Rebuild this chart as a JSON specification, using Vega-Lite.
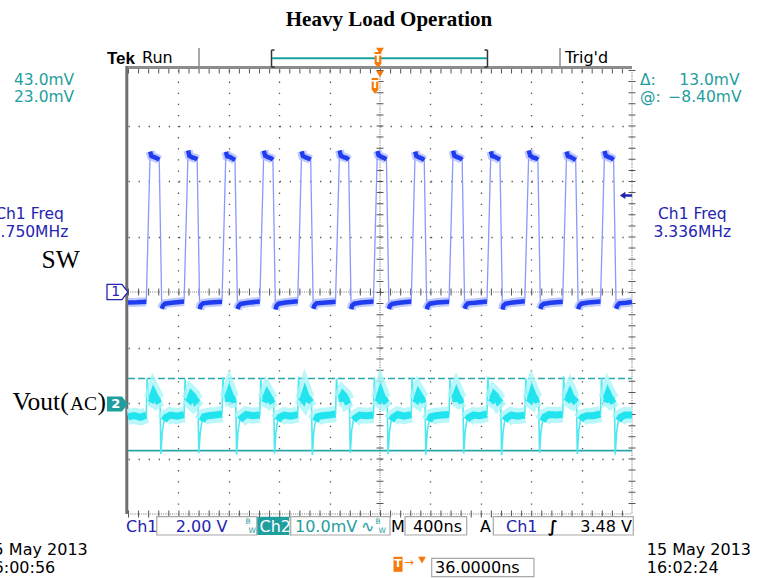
{
  "$schema": "https://vega.github.io/schema/vega-lite/v6.json",
  "width": 504,
  "height": 444,
  "autosize": {"type": "none"},
  "padding": {"left": 128, "top": 70, "right": 137, "bottom": 64},
  "background": "#ffffff",
  "config": {
    "view": {"stroke": null},
    "axis": {"domain": false, "ticks": false, "labels": false, "title": null, "grid": false}
  },
  "resolve": {"scale": {"y": "independent"}},
  "layer": [
    {
      "encoding": {
        "x": {"field": "t", "type": "quantitative", "scale": {"domain": [-2000, 2000], "nice": false, "zero": false},
              "axis": {"values": [-1600, -1200, -800, -400, 400, 800, 1200, 1600], "grid": true, "gridDash": [1.3, 9.8], "gridColor": "#555555", "gridWidth": 1.3}},
        "y": {"field": "v", "type": "quantitative", "scale": {"domain": [-8, 8], "nice": false, "zero": false},
              "axis": {"values": [-6, -4, -2, 2, 4, 6], "grid": true, "gridDash": [1.3, 8.78], "gridColor": "#555555", "gridWidth": 1.3}}
      },
      "layer": [
        {"data": {"values": [
            {"t": 0, "t2": 0, "v": 8, "v2": -8},
            {"t": 2000, "t2": 2000, "v": 8, "v2": -8},
            {"t": -2000, "t2": 2000, "v": 0, "v2": 0},
            {"t": -2000, "t2": 2000, "v": -8, "v2": -8}]},
         "mark": {"type": "rule", "color": "#7a7a7a", "strokeWidth": 1.1, "strokeDash": [1, 1.2]},
         "encoding": {"x2": {"field": "t2"}, "y2": {"field": "v2"}}},
        {"data": {"values": [
            {"t": 0, "t2": 0, "v": 8, "v2": -8},
            {"t": 2000, "t2": 2000, "v": 8, "v2": -8}]},
         "mark": {"type": "rule", "color": "#555555", "strokeWidth": 7, "strokeDash": [1, 10.1]},
         "encoding": {"x2": {"field": "t2"}, "y2": {"field": "v2"}}},
        {"data": {"values": [
            {"t": -2000, "t2": 2000, "v": 0, "v2": 0},
            {"t": -2000, "t2": 2000, "v": -8, "v2": -8},
            {"t": -2000, "t2": 2000, "v": 8, "v2": 8}]},
         "mark": {"type": "rule", "color": "#555555", "strokeWidth": 7, "strokeDash": [1, 9.08]},
         "encoding": {"x2": {"field": "t2"}, "y2": {"field": "v2"}}},
        {"data": {"values": [{"t": -2016, "t2": 2000, "v": 8.09, "v2": 8.09}]},
         "mark": {"type": "rule", "color": "#8c8c8c", "strokeWidth": 3},
         "encoding": {"x2": {"field": "t2"}, "y2": {"field": "v2"}}},
        {"data": {"values": [{"t": -2009.5, "t2": -2009.5, "v": 8.14, "v2": -8}]},
         "mark": {"type": "rule", "color": "#707070", "strokeWidth": 3},
         "encoding": {"x2": {"field": "t2"}, "y2": {"field": "v2"}}},
        {"data": {"values": [
            {"t": -1436.5, "t2": -1436.5, "v": 8.79, "v2": 8.108},
            {"t": 1428.6, "t2": 1428.6, "v": 8.79, "v2": 8.108}]},
         "mark": {"type": "rule", "color": "#8c8c8c", "strokeWidth": 1.5},
         "encoding": {"x2": {"field": "t2"}, "y2": {"field": "v2"}}},
        {"data": {"values": [
            {"t": -861, "t2": -861, "v": 8.72, "v2": 8.108},
            {"t": 853, "t2": 853, "v": 8.72, "v2": 8.108},
            {"t": -861, "t2": -837, "v": 8.72, "v2": 8.72},
            {"t": -861, "t2": -837, "v": 8.108, "v2": 8.108},
            {"t": 829, "t2": 853, "v": 8.72, "v2": 8.72},
            {"t": 829, "t2": 853, "v": 8.108, "v2": 8.108}]},
         "mark": {"type": "rule", "color": "#333333", "strokeWidth": 1.5},
         "encoding": {"x2": {"field": "t2"}, "y2": {"field": "v2"}}},
        {"data": {"values": [{"t": -858, "t2": 850, "v": 8.422, "v2": 8.422}]},
         "mark": {"type": "rule", "color": "#1aa0a0", "strokeWidth": 2},
         "encoding": {"x2": {"field": "t2"}, "y2": {"field": "v2"}}},
        {
          "data": {"name": "sw", "values": [
            {"t":-2000,"v":-0.38,"s":"l_"},{"t":-1930,"v":-0.37,"s":"l_"},{"t":-1855,"v":-0.35,"s":"l_"},
            {"t":-1824,"v":5.06,"s":"h0"},{"t":-1814,"v":4.9,"s":"h0"},{"t":-1792,"v":4.86,"s":"h0"},{"t":-1767,"v":4.81,"s":"h0"},{"t":-1752,"v":4.76,"s":"h0"},
            {"t":-1732,"v":-0.6,"s":"l0"},{"t":-1724,"v":-0.5,"s":"l0"},{"t":-1707,"v":-0.42,"s":"l0"},{"t":-1652,"v":-0.39,"s":"l0"},{"t":-1555,"v":-0.34,"s":"l0"},
            {"t":-1523,"v":5.1,"s":"h1"},{"t":-1513,"v":4.91,"s":"h1"},{"t":-1491,"v":4.85,"s":"h1"},{"t":-1466,"v":4.82,"s":"h1"},{"t":-1451,"v":4.77,"s":"h1"},
            {"t":-1431,"v":-0.62,"s":"l1"},{"t":-1423,"v":-0.49,"s":"l1"},{"t":-1406,"v":-0.41,"s":"l1"},{"t":-1351,"v":-0.38,"s":"l1"},{"t":-1254,"v":-0.35,"s":"l1"},
            {"t":-1223,"v":5.05,"s":"h2"},{"t":-1213,"v":4.89,"s":"h2"},{"t":-1191,"v":4.87,"s":"h2"},{"t":-1166,"v":4.8,"s":"h2"},{"t":-1151,"v":4.75,"s":"h2"},
            {"t":-1131,"v":-0.61,"s":"l2"},{"t":-1123,"v":-0.51,"s":"l2"},{"t":-1106,"v":-0.43,"s":"l2"},{"t":-1051,"v":-0.39,"s":"l2"},{"t":-954,"v":-0.34,"s":"l2"},
            {"t":-922,"v":5.09,"s":"h3"},{"t":-912,"v":4.92,"s":"h3"},{"t":-890,"v":4.86,"s":"h3"},{"t":-865,"v":4.82,"s":"h3"},{"t":-850,"v":4.76,"s":"h3"},
            {"t":-830,"v":-0.63,"s":"l3"},{"t":-822,"v":-0.5,"s":"l3"},{"t":-805,"v":-0.42,"s":"l3"},{"t":-750,"v":-0.38,"s":"l3"},{"t":-653,"v":-0.33,"s":"l3"},
            {"t":-622,"v":5.07,"s":"h4"},{"t":-612,"v":4.9,"s":"h4"},{"t":-590,"v":4.85,"s":"h4"},{"t":-565,"v":4.81,"s":"h4"},{"t":-550,"v":4.77,"s":"h4"},
            {"t":-530,"v":-0.6,"s":"l4"},{"t":-522,"v":-0.5,"s":"l4"},{"t":-505,"v":-0.41,"s":"l4"},{"t":-450,"v":-0.39,"s":"l4"},{"t":-353,"v":-0.35,"s":"l4"},
            {"t":-321,"v":5.1,"s":"h5"},{"t":-311,"v":4.91,"s":"h5"},{"t":-289,"v":4.86,"s":"h5"},{"t":-264,"v":4.83,"s":"h5"},{"t":-249,"v":4.76,"s":"h5"},
            {"t":-229,"v":-0.62,"s":"l5"},{"t":-221,"v":-0.49,"s":"l5"},{"t":-204,"v":-0.42,"s":"l5"},{"t":-149,"v":-0.38,"s":"l5"},{"t":-52,"v":-0.34,"s":"l5"},
            {"t":-21,"v":5.08,"s":"h6"},{"t":-11,"v":4.93,"s":"h6"},{"t":11,"v":4.87,"s":"h6"},{"t":36,"v":4.82,"s":"h6"},{"t":51,"v":4.78,"s":"h6"},
            {"t":71,"v":-0.61,"s":"l6"},{"t":79,"v":-0.5,"s":"l6"},{"t":96,"v":-0.43,"s":"l6"},{"t":151,"v":-0.39,"s":"l6"},{"t":248,"v":-0.34,"s":"l6"},
            {"t":279,"v":5.06,"s":"h7"},{"t":289,"v":4.9,"s":"h7"},{"t":311,"v":4.85,"s":"h7"},{"t":336,"v":4.8,"s":"h7"},{"t":351,"v":4.75,"s":"h7"},
            {"t":371,"v":-0.62,"s":"l7"},{"t":379,"v":-0.51,"s":"l7"},{"t":396,"v":-0.42,"s":"l7"},{"t":451,"v":-0.38,"s":"l7"},{"t":548,"v":-0.35,"s":"l7"},
            {"t":580,"v":5.09,"s":"h8"},{"t":590,"v":4.91,"s":"h8"},{"t":612,"v":4.86,"s":"h8"},{"t":637,"v":4.82,"s":"h8"},{"t":652,"v":4.76,"s":"h8"},
            {"t":672,"v":-0.6,"s":"l8"},{"t":680,"v":-0.5,"s":"l8"},{"t":697,"v":-0.41,"s":"l8"},{"t":752,"v":-0.39,"s":"l8"},{"t":849,"v":-0.34,"s":"l8"},
            {"t":880,"v":5.07,"s":"h9"},{"t":890,"v":4.9,"s":"h9"},{"t":912,"v":4.87,"s":"h9"},{"t":937,"v":4.81,"s":"h9"},{"t":952,"v":4.77,"s":"h9"},
            {"t":972,"v":-0.63,"s":"l9"},{"t":980,"v":-0.49,"s":"l9"},{"t":997,"v":-0.42,"s":"l9"},{"t":1052,"v":-0.38,"s":"l9"},{"t":1149,"v":-0.33,"s":"l9"},
            {"t":1181,"v":5.1,"s":"h10"},{"t":1191,"v":4.92,"s":"h10"},{"t":1213,"v":4.85,"s":"h10"},{"t":1238,"v":4.82,"s":"h10"},{"t":1253,"v":4.76,"s":"h10"},
            {"t":1273,"v":-0.61,"s":"l10"},{"t":1281,"v":-0.5,"s":"l10"},{"t":1298,"v":-0.43,"s":"l10"},{"t":1353,"v":-0.39,"s":"l10"},{"t":1450,"v":-0.35,"s":"l10"},
            {"t":1481,"v":5.06,"s":"h11"},{"t":1491,"v":4.9,"s":"h11"},{"t":1513,"v":4.86,"s":"h11"},{"t":1538,"v":4.8,"s":"h11"},{"t":1553,"v":4.75,"s":"h11"},
            {"t":1573,"v":-0.62,"s":"l11"},{"t":1581,"v":-0.5,"s":"l11"},{"t":1598,"v":-0.42,"s":"l11"},{"t":1653,"v":-0.38,"s":"l11"},{"t":1750,"v":-0.34,"s":"l11"},
            {"t":1782,"v":5.08,"s":"h12"},{"t":1792,"v":4.91,"s":"h12"},{"t":1814,"v":4.86,"s":"h12"},{"t":1839,"v":4.82,"s":"h12"},{"t":1854,"v":4.76,"s":"h12"},
            {"t":1874,"v":-0.6,"s":"l12"},{"t":1882,"v":-0.5,"s":"l12"},{"t":1899,"v":-0.41,"s":"l12"},{"t":1954,"v":-0.39,"s":"l12"},{"t":2000,"v":-0.36,"s":"l12"}
          ]},
          "layer": [
            {"mark": {"type": "line", "color": "#8a98ff", "strokeWidth": 1.3}},
            {"mark": {"type": "line", "color": "#aab6ff", "strokeWidth": 9, "opacity": 0.75}, "encoding": {"detail": {"field": "s"}}},
            {"mark": {"type": "line", "color": "#1f3cf0", "strokeWidth": 4.5}, "encoding": {"detail": {"field": "s"}}}
          ]
        },
        {"data": {"values": [{"t": 1952.4, "v": 3.48}]},
         "mark": {"type": "point", "shape": "M-1,0 L-0.1,-0.6 L-0.1,-0.2 L1,-0.2 L1,0.2 L-0.1,0.2 L-0.1,0.6 Z", "size": 150, "filled": true, "color": "#2424b0", "opacity": 1}},
        {"data": {"values": [{"t": -2083.3, "v": 0}]},
         "mark": {"type": "point", "shape": "M-1,-0.72 L0.42,-0.72 L1,0 L0.42,0.72 L-1,0.72 Z", "size": 441, "filled": true, "fill": "#ffffff", "stroke": "#2424b0", "strokeWidth": 1.3, "opacity": 1}},
        {"data": {"values": [{"label": "1", "t": -2097, "v": 0}]},
         "mark": {"type": "text", "align": "center", "baseline": "middle", "font": "DejaVu Sans", "fontSize": 14, "color": "#2424b0"},
         "encoding": {"text": {"field": "label"}}},
        {"data": {"values": [{"t": -15.9, "v": 8.36}, {"t": -39.7, "v": 7.423}]},
         "mark": {"type": "point", "shape": "M-0.42,-1 L0.42,-1 L0.42,0.45 L0,1 L-0.42,0.45 Z", "size": 256, "filled": true, "color": "#f57a0a", "opacity": 1}},
        {"data": {"values": [{"label": "T", "t": -15.9, "v": 8.4}, {"label": "T", "t": -39.7, "v": 7.46}]},
         "mark": {"type": "text", "align": "center", "baseline": "middle", "font": "DejaVu Sans", "fontWeight": "bold", "fontSize": 11, "color": "#ffffff"},
         "encoding": {"text": {"field": "label"}}},
        {"data": {"values": [{"t": 0, "v": 8.685}, {"t": 0, "v": 7.856}]},
         "mark": {"type": "point", "shape": "triangle-down", "size": 60, "filled": true, "color": "#f57a0a", "opacity": 1}},
        {"data": {"values": [{"t": 142.9, "v": -9.813}]},
         "mark": {"type": "point", "shape": "M-0.6,-1 L0.6,-1 L0.6,1 L-0.6,1 Z", "size": 225, "filled": true, "color": "#f57a0a", "opacity": 1}},
        {"data": {"values": [{"label": "T", "t": 142.9, "v": -9.813}]},
         "mark": {"type": "text", "align": "center", "baseline": "middle", "font": "DejaVu Sans", "fontWeight": "bold", "fontSize": 11, "color": "#ffffff"},
         "encoding": {"text": {"field": "label"}}},
        {"data": {"values": [{"label": "→", "t": 230.2, "v": -9.766}]},
         "mark": {"type": "text", "align": "center", "baseline": "middle", "font": "DejaVu Sans", "fontSize": 11, "color": "#f57a0a"},
         "encoding": {"text": {"field": "label"}}},
        {"data": {"values": [{"t": 333.3, "v": -9.66}]},
         "mark": {"type": "point", "shape": "triangle-down", "size": 60, "filled": true, "color": "#f57a0a", "opacity": 1}},
        {"data": {"values": [
            {"t": -1771.4, "t2": -977.8, "v": -8.097, "v2": -8.757},
            {"t": -708.7, "t2": 79.4, "v": -8.097, "v2": -8.757},
            {"t": 198.4, "t2": 688.1, "v": -8.097, "v2": -8.757},
            {"t": 899.2, "t2": 2010.3, "v": -8.097, "v2": -8.757},
            {"t": 410.3, "t2": 1222.2, "v": -9.597, "v2": -10.26}]},
         "mark": {"type": "rect", "fill": "#ffffff", "stroke": "#a8a8a8", "strokeWidth": 1.2},
         "encoding": {"x2": {"field": "t2"}, "y2": {"field": "v2"}}},
        {"data": {"values": [{"t": -973.8, "t2": -720.2, "v": -8.097, "v2": -8.757}]},
         "mark": {"type": "rect", "fill": "#1f9e9e"},
         "encoding": {"x2": {"field": "t2"}, "y2": {"field": "v2"}}},
        {"data": {"values": [{"label": "Heavy Load Operation", "t": 71.4, "v": 9.586}]},
         "mark": {"type": "text", "align": "center", "baseline": "alphabetic", "font": "Liberation Serif", "fontWeight": "bold", "fontSize": 21, "color": "#000000"},
         "encoding": {"text": {"field": "label"}}},
        {"data": {"values": [{"label": "Tek", "t": -2166.7, "v": 8.216}]},
         "mark": {"type": "text", "align": "left", "baseline": "alphabetic", "font": "Liberation Sans", "fontWeight": "bold", "fontSize": 17, "color": "#000000"},
         "encoding": {"text": {"field": "label"}}},
        {"data": {"values": [
            {"label": "Run", "t": -1888.9, "v": 8.252},
            {"label": "Trig'd", "t": 1468.3, "v": 8.252},
            {"label": "M", "t": 87.3, "v": -8.649},
            {"label": "400ns", "t": 261.9, "v": -8.649},
            {"label": "A", "t": 793.7, "v": -8.649},
            {"label": "15 May 2013", "t": -3147.5, "v": -9.477},
            {"label": "16:00:56", "t": -3147.5, "v": -10.126},
            {"label": "15 May 2013", "t": 2116.7, "v": -9.477},
            {"label": "16:02:24", "t": 2116.7, "v": -10.126},
            {"label": "36.0000ns", "t": 436.5, "v": -10.126}]},
         "mark": {"type": "text", "align": "left", "baseline": "alphabetic", "font": "DejaVu Sans", "fontSize": 16, "color": "#000000"},
         "encoding": {"text": {"field": "label"}}},
        {"data": {"values": [{"label": "3.48 V", "t": 2000, "v": -8.649}]},
         "mark": {"type": "text", "align": "right", "baseline": "alphabetic", "font": "DejaVu Sans", "fontSize": 16, "color": "#000000"},
         "encoding": {"text": {"field": "label"}}},
        {"data": {"values": [{"label": "∫", "t": 1333.3, "v": -8.649}]},
         "mark": {"type": "text", "align": "left", "baseline": "alphabetic", "font": "DejaVu Sans", "fontWeight": "bold", "fontSize": 16, "color": "#000000"},
         "encoding": {"text": {"field": "label"}}},
        {"data": {"values": [
            {"label": "43.0mV", "t": -2904.8, "v": 7.459},
            {"label": "23.0mV", "t": -2904.8, "v": 6.847},
            {"label": "Δ:", "t": 2063.5, "v": 7.459},
            {"label": "@:", "t": 2063.5, "v": 6.847}]},
         "mark": {"type": "text", "align": "left", "baseline": "alphabetic", "font": "DejaVu Sans", "fontSize": 15.5, "color": "#1f9e9e"},
         "encoding": {"text": {"field": "label"}}},
        {"data": {"values": [
            {"label": "10.0mV", "t": -674.6, "v": -8.649},
            {"label": "∿", "t": -150.8, "v": -8.649}]},
         "mark": {"type": "text", "align": "left", "baseline": "alphabetic", "font": "DejaVu Sans", "fontSize": 16, "color": "#1f9e9e"},
         "encoding": {"text": {"field": "label"}}},
        {"data": {"values": [
            {"label": "13.0mV", "t": 2853.2, "v": 7.459},
            {"label": "−8.40mV", "t": 2869, "v": 6.847}]},
         "mark": {"type": "text", "align": "right", "baseline": "alphabetic", "font": "DejaVu Sans", "fontSize": 15.5, "color": "#1f9e9e"},
         "encoding": {"text": {"field": "label"}}},
        {"data": {"values": [
            {"label": "Ch1 Freq", "t": -2781.7, "v": 2.631},
            {"label": "1.750MHz", "t": -2781.7, "v": 2.0},
            {"label": "Ch1 Freq", "t": 2478.6, "v": 2.631},
            {"label": "3.336MHz", "t": 2478.6, "v": 2.0}]},
         "mark": {"type": "text", "align": "center", "baseline": "alphabetic", "font": "DejaVu Sans", "fontSize": 15.5, "color": "#2424b0"},
         "encoding": {"text": {"field": "label"}}},
        {"data": {"values": [
            {"label": "Ch1", "t": -2015.9, "v": -8.649},
            {"label": "2.00 V", "t": -1621.4, "v": -8.649},
            {"label": "Ch1", "t": 1000, "v": -8.649}]},
         "mark": {"type": "text", "align": "left", "baseline": "alphabetic", "font": "DejaVu Sans", "fontSize": 16, "color": "#2424b0"},
         "encoding": {"text": {"field": "label"}}},
        {"data": {"values": [{"label": "Ch2", "t": -956.3, "v": -8.649}]},
         "mark": {"type": "text", "align": "left", "baseline": "alphabetic", "font": "DejaVu Sans", "fontSize": 16, "color": "#ffffff"},
         "encoding": {"text": {"field": "label"}}},
        {"data": {"values": [
            {"label": "B", "t": -1067.5, "v": -8.36},
            {"label": "W", "t": -1043.7, "v": -8.685},
            {"label": "B", "t": -35.7, "v": -8.36},
            {"label": "W", "t": -11.9, "v": -8.685}]},
         "mark": {"type": "text", "align": "left", "baseline": "alphabetic", "font": "DejaVu Sans", "fontSize": 7.5, "color": "#1f9e9e"},
         "encoding": {"text": {"field": "label"}}},
        {"data": {"values": [
            {"label": "SW", "t": -2686.5, "v": 0.865},
            {"label": "Vout(", "t": -2916.7, "v": -4.27},
            {"label": ")", "t": -2242, "v": -4.27}]},
         "mark": {"type": "text", "align": "left", "baseline": "alphabetic", "font": "Liberation Serif", "fontSize": 25.5, "color": "#000000"},
         "encoding": {"text": {"field": "label"}}},
        {"data": {"values": [{"label": "AC", "t": -2460, "v": -4.27}]},
         "mark": {"type": "text", "align": "left", "baseline": "alphabetic", "font": "Liberation Serif", "fontSize": 19.5, "color": "#000000"},
         "encoding": {"text": {"field": "label"}}}
      ]
    },
    {
      "encoding": {
        "x": {"field": "t", "type": "quantitative", "scale": {"domain": [-2000, 2000], "nice": false, "zero": false},
              "axis": {"values": [-1600, -1200, -800, -400, 400, 800, 1200, 1600], "grid": true, "gridDash": [1.3, 9.8], "gridColor": "#555555", "gridWidth": 1.3}},
        "y": {"field": "v", "type": "quantitative", "scale": {"domain": [-19.82, 60.18], "nice": false, "zero": false}, "axis": null}
      },
      "layer": [
        {"data": {"values": [{"t": -2000, "t2": 2000, "v": 4.6, "v2": 4.6}]},
         "mark": {"type": "rule", "color": "#2aa8a8", "strokeWidth": 1.6, "strokeDash": [7, 3]},
         "encoding": {"x2": {"field": "t2"}, "y2": {"field": "v2"}}},
        {"data": {"values": [{"t": -2000, "t2": 2000, "v": -8.4, "v2": -8.4}]},
         "mark": {"type": "rule", "color": "#2aa8a8", "strokeWidth": 1.8},
         "encoding": {"x2": {"field": "t2"}, "y2": {"field": "v2"}}},
        {
          "data": {"name": "vout", "values": [
            {"t":-2000,"v":-2.3,"s":"l_"},{"t":-1950,"v":-2.1,"s":"l_"},{"t":-1900,"v":-2.4,"s":"l_"},{"t":-1855,"v":-2.0,"s":"l_"},
            {"t":-1848,"v":4.7,"s":"e"},{"t":-1840,"v":2.2,"s":"e"},{"t":-1830,"v":1.1,"s":"h0"},{"t":-1812,"v":0.9,"s":"h0"},{"t":-1797,"v":1.9,"s":"h0"},{"t":-1784,"v":1.3,"s":"h0"},{"t":-1767,"v":0.7,"s":"h0"},{"t":-1746,"v":1.0,"s":"h0"},
            {"t":-1739,"v":-9.0,"s":"e"},{"t":-1728,"v":-5.0,"s":"e"},{"t":-1714,"v":-3.0,"s":"l0"},{"t":-1697,"v":-2.4,"s":"l0"},{"t":-1662,"v":-2.0,"s":"l0"},{"t":-1612,"v":-2.2,"s":"l0"},{"t":-1555,"v":-1.9,"s":"l0"},
            {"t":-1547,"v":4.5,"s":"e"},{"t":-1539,"v":2.0,"s":"e"},{"t":-1529,"v":1.2,"s":"h1"},{"t":-1511,"v":0.8,"s":"h1"},{"t":-1496,"v":1.7,"s":"h1"},{"t":-1483,"v":1.4,"s":"h1"},{"t":-1466,"v":0.6,"s":"h1"},{"t":-1445,"v":1.1,"s":"h1"},
            {"t":-1438,"v":-8.8,"s":"e"},{"t":-1427,"v":-5.2,"s":"e"},{"t":-1413,"v":-3.1,"s":"l1"},{"t":-1396,"v":-2.3,"s":"l1"},{"t":-1361,"v":-2.1,"s":"l1"},{"t":-1311,"v":-2.0,"s":"l1"},{"t":-1254,"v":-1.8,"s":"l1"},
            {"t":-1247,"v":4.8,"s":"e"},{"t":-1239,"v":2.3,"s":"e"},{"t":-1229,"v":1.0,"s":"h2"},{"t":-1211,"v":1.0,"s":"h2"},{"t":-1196,"v":2.0,"s":"h2"},{"t":-1183,"v":1.2,"s":"h2"},{"t":-1166,"v":0.8,"s":"h2"},{"t":-1145,"v":0.9,"s":"h2"},
            {"t":-1138,"v":-9.1,"s":"e"},{"t":-1127,"v":-4.9,"s":"e"},{"t":-1113,"v":-2.9,"s":"l2"},{"t":-1096,"v":-2.5,"s":"l2"},{"t":-1061,"v":-1.9,"s":"l2"},{"t":-1011,"v":-2.1,"s":"l2"},{"t":-954,"v":-2.0,"s":"l2"},
            {"t":-946,"v":4.6,"s":"e"},{"t":-938,"v":2.1,"s":"e"},{"t":-928,"v":1.1,"s":"h3"},{"t":-910,"v":0.9,"s":"h3"},{"t":-895,"v":1.8,"s":"h3"},{"t":-882,"v":1.3,"s":"h3"},{"t":-865,"v":0.7,"s":"h3"},{"t":-844,"v":1.0,"s":"h3"},
            {"t":-837,"v":-8.9,"s":"e"},{"t":-826,"v":-5.1,"s":"e"},{"t":-812,"v":-3.0,"s":"l3"},{"t":-795,"v":-2.4,"s":"l3"},{"t":-760,"v":-2.0,"s":"l3"},{"t":-710,"v":-2.2,"s":"l3"},{"t":-653,"v":-1.9,"s":"l3"},
            {"t":-646,"v":4.9,"s":"e"},{"t":-638,"v":2.2,"s":"e"},{"t":-628,"v":1.3,"s":"h4"},{"t":-610,"v":0.8,"s":"h4"},{"t":-595,"v":1.9,"s":"h4"},{"t":-582,"v":1.1,"s":"h4"},{"t":-565,"v":0.8,"s":"h4"},{"t":-544,"v":1.2,"s":"h4"},
            {"t":-537,"v":-9.2,"s":"e"},{"t":-526,"v":-5.0,"s":"e"},{"t":-512,"v":-3.1,"s":"l4"},{"t":-495,"v":-2.3,"s":"l4"},{"t":-460,"v":-2.1,"s":"l4"},{"t":-410,"v":-2.0,"s":"l4"},{"t":-353,"v":-1.8,"s":"l4"},
            {"t":-345,"v":4.6,"s":"e"},{"t":-337,"v":2.0,"s":"e"},{"t":-327,"v":1.0,"s":"h5"},{"t":-309,"v":1.0,"s":"h5"},{"t":-294,"v":1.7,"s":"h5"},{"t":-281,"v":1.4,"s":"h5"},{"t":-264,"v":0.6,"s":"h5"},{"t":-243,"v":0.9,"s":"h5"},
            {"t":-236,"v":-8.8,"s":"e"},{"t":-225,"v":-4.8,"s":"e"},{"t":-211,"v":-2.9,"s":"l5"},{"t":-194,"v":-2.5,"s":"l5"},{"t":-159,"v":-2.0,"s":"l5"},{"t":-109,"v":-2.1,"s":"l5"},{"t":-52,"v":-2.0,"s":"l5"},
            {"t":-45,"v":4.7,"s":"e"},{"t":-37,"v":2.3,"s":"e"},{"t":-27,"v":1.2,"s":"h6"},{"t":-9,"v":0.9,"s":"h6"},{"t":6,"v":2.0,"s":"h6"},{"t":19,"v":1.2,"s":"h6"},{"t":36,"v":0.7,"s":"h6"},{"t":57,"v":1.1,"s":"h6"},
            {"t":64,"v":-9.0,"s":"e"},{"t":75,"v":-5.1,"s":"e"},{"t":89,"v":-3.0,"s":"l6"},{"t":106,"v":-2.4,"s":"l6"},{"t":141,"v":-1.9,"s":"l6"},{"t":191,"v":-2.2,"s":"l6"},{"t":248,"v":-1.9,"s":"l6"},
            {"t":255,"v":4.8,"s":"e"},{"t":263,"v":2.1,"s":"e"},{"t":273,"v":1.1,"s":"h7"},{"t":291,"v":0.8,"s":"h7"},{"t":306,"v":1.8,"s":"h7"},{"t":319,"v":1.3,"s":"h7"},{"t":336,"v":0.8,"s":"h7"},{"t":357,"v":1.0,"s":"h7"},
            {"t":364,"v":-9.1,"s":"e"},{"t":375,"v":-5.0,"s":"e"},{"t":389,"v":-3.1,"s":"l7"},{"t":406,"v":-2.3,"s":"l7"},{"t":441,"v":-2.1,"s":"l7"},{"t":491,"v":-2.0,"s":"l7"},{"t":548,"v":-1.9,"s":"l7"},
            {"t":556,"v":4.5,"s":"e"},{"t":564,"v":2.2,"s":"e"},{"t":574,"v":1.0,"s":"h8"},{"t":592,"v":1.0,"s":"h8"},{"t":607,"v":1.9,"s":"h8"},{"t":620,"v":1.2,"s":"h8"},{"t":637,"v":0.7,"s":"h8"},{"t":658,"v":0.9,"s":"h8"},
            {"t":665,"v":-8.9,"s":"e"},{"t":676,"v":-4.9,"s":"e"},{"t":690,"v":-2.9,"s":"l8"},{"t":707,"v":-2.4,"s":"l8"},{"t":742,"v":-2.0,"s":"l8"},{"t":792,"v":-2.1,"s":"l8"},{"t":849,"v":-1.8,"s":"l8"},
            {"t":856,"v":4.9,"s":"e"},{"t":864,"v":2.0,"s":"e"},{"t":874,"v":1.2,"s":"h9"},{"t":892,"v":0.9,"s":"h9"},{"t":907,"v":1.7,"s":"h9"},{"t":920,"v":1.4,"s":"h9"},{"t":937,"v":0.6,"s":"h9"},{"t":958,"v":1.1,"s":"h9"},
            {"t":965,"v":-9.2,"s":"e"},{"t":976,"v":-5.2,"s":"e"},{"t":990,"v":-3.0,"s":"l9"},{"t":1007,"v":-2.5,"s":"l9"},{"t":1042,"v":-2.0,"s":"l9"},{"t":1092,"v":-2.2,"s":"l9"},{"t":1149,"v":-2.0,"s":"l9"},
            {"t":1157,"v":4.6,"s":"e"},{"t":1165,"v":2.3,"s":"e"},{"t":1175,"v":1.1,"s":"h10"},{"t":1193,"v":0.8,"s":"h10"},{"t":1208,"v":2.0,"s":"h10"},{"t":1221,"v":1.3,"s":"h10"},{"t":1238,"v":0.8,"s":"h10"},{"t":1259,"v":1.0,"s":"h10"},
            {"t":1266,"v":-8.8,"s":"e"},{"t":1277,"v":-5.0,"s":"e"},{"t":1291,"v":-3.1,"s":"l10"},{"t":1308,"v":-2.3,"s":"l10"},{"t":1343,"v":-1.9,"s":"l10"},{"t":1393,"v":-2.0,"s":"l10"},{"t":1450,"v":-1.9,"s":"l10"},
            {"t":1457,"v":5.0,"s":"e"},{"t":1465,"v":2.1,"s":"e"},{"t":1475,"v":1.3,"s":"h11"},{"t":1493,"v":1.0,"s":"h11"},{"t":1508,"v":1.8,"s":"h11"},{"t":1521,"v":1.1,"s":"h11"},{"t":1538,"v":0.7,"s":"h11"},{"t":1559,"v":1.2,"s":"h11"},
            {"t":1566,"v":-9.0,"s":"e"},{"t":1577,"v":-4.8,"s":"e"},{"t":1591,"v":-2.9,"s":"l11"},{"t":1608,"v":-2.4,"s":"l11"},{"t":1643,"v":-2.1,"s":"l11"},{"t":1693,"v":-2.1,"s":"l11"},{"t":1750,"v":-1.8,"s":"l11"},
            {"t":1758,"v":4.7,"s":"e"},{"t":1766,"v":2.2,"s":"e"},{"t":1776,"v":1.0,"s":"h12"},{"t":1794,"v":0.9,"s":"h12"},{"t":1809,"v":1.9,"s":"h12"},{"t":1822,"v":1.3,"s":"h12"},{"t":1839,"v":0.7,"s":"h12"},{"t":1860,"v":1.0,"s":"h12"},
            {"t":1867,"v":-9.1,"s":"e"},{"t":1878,"v":-5.1,"s":"e"},{"t":1892,"v":-3.0,"s":"l12"},{"t":1909,"v":-2.4,"s":"l12"},{"t":1944,"v":-2.0,"s":"l12"},{"t":2000,"v":-2.0,"s":"l12"}
          ]},
          "layer": [
            {"mark": {"type": "line", "color": "#4de8f0", "strokeWidth": 1.6}},
            {"transform": [{"filter": "datum.s != 'e'"}],
             "mark": {"type": "line", "color": "#a8f5f9", "strokeWidth": 16, "opacity": 0.8}, "encoding": {"detail": {"field": "s"}}},
            {"transform": [{"filter": "datum.s != 'e'"}],
             "mark": {"type": "line", "color": "#22e4ee", "strokeWidth": 7}, "encoding": {"detail": {"field": "s"}}}
          ]
        },
        {"data": {"values": [{"t": -2083.3, "v": 0}]},
         "mark": {"type": "point", "shape": "M-1,-0.72 L0.42,-0.72 L1,0 L0.42,0.72 L-1,0.72 Z", "size": 441, "filled": true, "color": "#1f9e9e", "opacity": 1}},
        {"data": {"values": [{"label": "2", "t": -2097, "v": 0}]},
         "mark": {"type": "text", "align": "center", "baseline": "middle", "font": "DejaVu Sans", "fontWeight": "bold", "fontSize": 13, "color": "#ffffff"},
         "encoding": {"text": {"field": "label"}}}
      ]
    }
  ]
}
